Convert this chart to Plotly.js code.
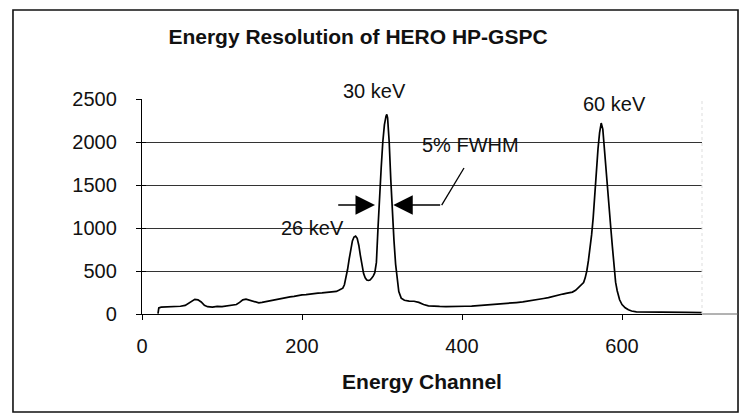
<!DOCTYPE html>
<html>
<head>
<meta charset="utf-8">
<script src="https://cdn.plot.ly/plotly-3.0.1.min.js"></script>
<style>html,body{margin:0;padding:0;background:#fff;}#chart{width:748px;height:418px;}</style>
</head>
<body>
<div id="chart"></div>
<script>
// Energy channel (x) and counts (y)
const channels = [20,21,24,30,36,42,48,54,58,62,66,70,74,78,82,88,94,100,106,112,118,122,126,130,134,138,142,146,150,155,160,165,170,175,180,185,190,195,200,205,210,215,220,225,230,235,240,243,246,249,251,253,255,257,259,261,263,265,267,269,271,273,275,277,279,281,283,285,287,289,291,293,295,297,299,301,303,305,306,307,309,311,313,315,317,319,321,324,328,334,340,346,352,358,364,372,380,388,396,404,412,420,428,436,444,452,460,468,476,484,490,496,502,508,514,518,522,526,530,534,538,542,546,549,552,554,556,558,560,562,564,566,568,570,572,574,576,578,580,582,584,586,588,590,592,594,597,600,604,608,612,618,630,645,660,680,700];
const counts = [5,70,80,82,80,86,90,100,125,150,170,165,140,100,85,80,88,85,95,100,110,135,165,172,160,150,140,130,135,145,150,165,178,182,192,200,205,215,222,225,232,240,242,245,248,250,255,262,275,290,300,340,420,520,640,760,850,895,905,880,800,680,560,470,420,395,390,395,415,440,480,600,1000,1400,1700,2000,2200,2300,2320,2280,2000,1560,1100,850,580,380,260,185,160,150,148,135,110,95,90,88,86,85,88,90,92,97,100,105,113,120,125,133,140,150,160,170,180,190,205,218,230,232,240,245,255,275,310,335,365,420,500,620,760,920,1120,1400,1700,1920,2110,2220,2150,1900,1700,1500,1250,1000,780,520,370,270,165,110,72,50,35,25,22,20,18,18,16];

const xTicks = [0,200,400,600];
const yTicks = [0,500,1000,1500,2000,2500];

// Peak labels: [text, channel, counts]
const peakLabels = [
  ["30 keV", 290, 2593],
  ["60 keV", 590, 2442],
  ["26 keV", 212.5, 1000],
  ["5% FWHM", 411, 1965]
];
// FWHM marker arrows: [head channel, tail channel, counts]
const fwhmArrows = [[291.25, 243.4, 1267], [314.1, 374.6, 1267]];
const leaderLine = [[374.6, 1267], [402.5, 1698]];

const FONT = "Liberation Sans, Arial, Helvetica, sans-serif";
const X_MAX = 700, Y_MAX = 2500;

const trace = {
  x: channels, y: counts, type: 'scatter', mode: 'lines',
  line: {color: '#000', width: 1.7}, hoverinfo: 'skip', showlegend: false
};
// overlay trace for crossing ticks on the y axis
const ghost = {x: [0], y: [0], xaxis: 'x', yaxis: 'y2', mode: 'markers',
  marker: {opacity: 0}, showlegend: false, hoverinfo: 'skip'};

// labels placed in paper units derived from their data position (so labels above the range still show)
const annotations = peakLabels.map(p => ({
  text: p[0], x: p[1] / X_MAX, y: p[2] / Y_MAX, xref: 'paper', yref: 'paper', showarrow: false,
  font: {family: FONT, size: 20, color: '#111'}, xanchor: 'center', yanchor: 'middle'
}));
fwhmArrows.forEach(a => annotations.push({
  x: a[0], y: a[2], ax: a[1], ay: a[2], xref: 'x', yref: 'y', axref: 'x', ayref: 'y',
  text: '', showarrow: true, arrowhead: 2, arrowsize: 2.6, arrowwidth: 1.5, arrowcolor: '#000',
  standoff: 0, startstandoff: 0
}));

const shapes = [
  // outer frame
  {type: 'rect', xref: 'paper', yref: 'paper', x0: -0.2304, x1: 1.0643, y0: -0.456, y1: 1.414,
   line: {color: '#111', width: 1.6}, layer: 'below'},
  // x axis line extension to the frame
  {type: 'line', xref: 'paper', yref: 'paper', x0: 1, x1: 1.0643, y0: 0, y1: 0,
   line: {color: '#666', width: 1}},
  // faint right edge of plot area
  {type: 'line', xref: 'paper', yref: 'paper', x0: 1, x1: 1, y0: 0, y1: 1,
   line: {color: '#ddd', width: 1, dash: 'dot'}},
  // FWHM leader line
  {type: 'line', xref: 'x', yref: 'y', x0: leaderLine[0][0], y0: leaderLine[0][1],
   x1: leaderLine[1][0], y1: leaderLine[1][1], line: {color: '#000', width: 1.3}}
];

const layout = {
  width: 748, height: 418,
  margin: {l: 142, r: 46, t: 99, b: 104},
  paper_bgcolor: '#fff', plot_bgcolor: '#fff',
  font: {family: FONT, color: '#111'},
  title: {text: 'Energy Resolution of HERO HP-GSPC', x: 0.4786, xref: 'container', xanchor: 'center',
          y: 0.9115, yref: 'container', yanchor: 'middle',
          font: {family: FONT, size: 21, weight: 700, color: '#111'}},
  xaxis: {range: [0, X_MAX], tickvals: xTicks, ticktext: xTicks.map(String),
          showgrid: false, zeroline: false, showline: true, linecolor: '#000', linewidth: 1.2,
          ticks: 'outside', ticklen: 5, tickcolor: '#000', tickwidth: 1,
          ticklabelstandoff: 9, tickfont: {family: FONT, size: 20, color: '#111'},
          title: {text: 'Energy Channel', standoff: 18, font: {family: FONT, size: 21, weight: 700, color: '#111'}},
          fixedrange: true},
  yaxis: {range: [0, Y_MAX], tickvals: yTicks, ticktext: yTicks.map(String),
          showgrid: true, gridcolor: '#333', gridwidth: 1, zeroline: false,
          showline: true, linecolor: '#000', linewidth: 1.2,
          ticks: 'outside', ticklen: 5, tickcolor: '#000', tickwidth: 1,
          ticklabelstandoff: 15, tickfont: {family: FONT, size: 20, color: '#111'},
          fixedrange: true},
  yaxis2: {range: [0, Y_MAX], overlaying: 'y', side: 'left', tickvals: yTicks,
           showticklabels: false, showgrid: false, zeroline: false, showline: false,
           ticks: 'inside', ticklen: 4, tickcolor: '#000', tickwidth: 1, fixedrange: true},
  annotations: annotations,
  shapes: shapes,
  showlegend: false
};

Plotly.newPlot('chart', [trace, ghost], layout, {displayModeBar: false, staticPlot: true});
</script>
</body>
</html>
